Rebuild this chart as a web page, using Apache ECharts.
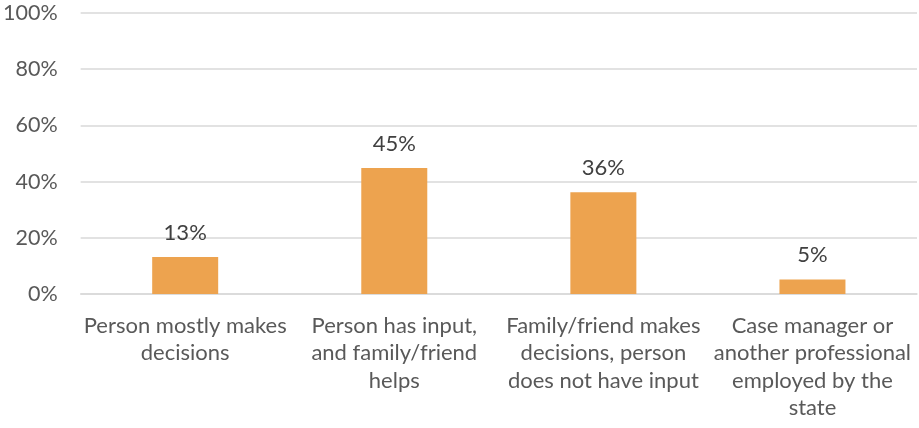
<!DOCTYPE html>
<html><head><meta charset="utf-8">
<script src="https://cdn.jsdelivr.net/npm/echarts@6/dist/echarts.min.js"></script>
<style>html,body{margin:0;padding:0;background:#fff}#c{width:919px;height:428px}</style>
</head><body><div id="c"></div>
<script>
const categories = ["Person mostly makes\ndecisions","Person has input,\nand family/friend\nhelps","Family/friend makes\ndecisions, person\ndoes not have input","Case manager or\nanother professional\nemployed by the\nstate"];
const values = [13.2, 44.8, 36.2, 5.2];
const yTicks = [0, 20, 40, 60, 80, 100];
const font = "Lato, 'Open Sans', sans-serif";
const chart = echarts.init(document.getElementById('c'));
chart.setOption({
  animation:false,
  grid:{left:79,right:2,top:13,bottom:134},
  xAxis:{type:'category',data:categories,
    axisLine:{lineStyle:{color:'#d9d9d9',width:1.5}},axisTick:{show:false},
    axisLabel:{color:'#595959',fontSize:22,fontFamily:font,lineHeight:27.5,margin:18,interval:0}},
  yAxis:{type:'value',min:0,max:100,interval:20,
    axisLabel:{formatter:v=>v+'%',color:'#595959',fontSize:21.5,fontFamily:font,margin:23},
    splitLine:{lineStyle:{color:'#d9d9d9',width:1.5}},axisLine:{show:false},axisTick:{show:false}},
  series:[{type:'bar',data:values,barWidth:66,itemStyle:{color:'#EDA34F'},
    label:{show:true,position:'top',distance:13,formatter:p=>Math.round(p.value)+'%',color:'#404040',fontSize:22,fontFamily:font}}]
});
</script></body></html>
